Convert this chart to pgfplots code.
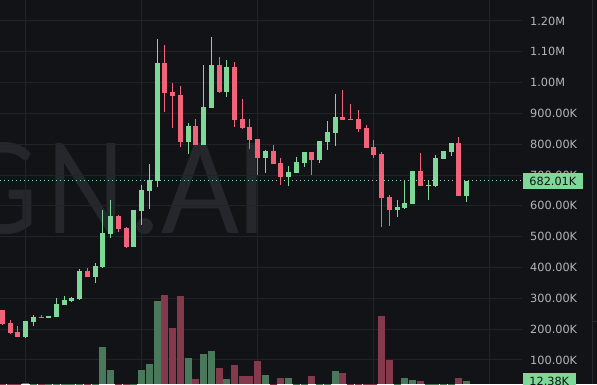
\documentclass[border=0pt]{standalone}
\usepackage{graphicx}
\usepackage{pgfplots}
\pgfplotsset{compat=1.18}
\usepackage{pgfplotstable}
\usepackage{fontspec}
\newfontfamily\labfont{DejaVu Sans}
\newfontfamily\wmfont{Lato}
\definecolor{bgc}{RGB}{18,19,22}
\definecolor{gridc}{RGB}{34,35,39}
\definecolor{wmc}{RGB}{38,39,44}
\definecolor{cgreen}{RGB}{126,217,152}
\definecolor{cred}{RGB}{242,99,122}
\definecolor{vgreen}{RGB}{74,120,90}
\definecolor{vred}{RGB}{132,58,76}
\definecolor{labc}{RGB}{178,181,186}
\definecolor{dotc}{RGB}{150,215,175}
\definecolor{sepc}{RGB}{40,41,46}

\pgfplotstableread{
i o h l c
3 175 227 172 226
4 223 246 211 240
6 236 244 236 244
7 240 301 239 282
8 279 308 278 295
9 291 304 288 301
10 298 395 295 389
12 369 415 350 405
13 401 587 398 512
14 509 619 496 567
17 467 587 467 587
18 583 668 538 652
19 649 736 590 684
20 681 1142 661 1064
24 807 869 768 859
26 798 1057 798 921
27 918 1148 918 1057
29 970 1073 953 1051
34 755 782 707 778
37 694 729 664 710
38 707 759 707 742
39 739 775 726 775
41 749 810 739 810
42 807 875 782 840
43 836 963 794 888
51 587 619 564 596
52 593 684 590 609
53 607 713 607 713
55 666 681 619 668
56 666 765 662 755
57 753 778 753 778
58 775 804 762 804
60 633 682.01 613 682.01
}\greencandles

\pgfplotstableread{
i o h l c
0 262 262 213 217
1 221 230 184 188.5
2 191 210 175 175.5
5 240 246 236 236
11 389 398 369 369
15 567 570 515 525
16 528 530 463 467
21 1064 1122 905 966
22 970 999 853 958
23 960 989 791 807
25 859 882 798 798
28 1057 1083 966 970
30 1051 1067 856 879
31 882 947 850 853
32 856 882 785 814
33 817 817 700 755
35 778 798 736 736
36 739 755 668 694
40 775 775 700 749
44 888 976 879 879
45 882 931 879 879
46 882 911 840 850
47 853 863 788 788
48 791 814 755 765
49 768 775 531 625
50 629 635 535 587
54 713 772 666 666
59 804 824 633 633
}\redcandles

\pgfplotstableread{
i v
3 7.4
4 3
6 2
7 4
8 3
9 3
10 4
12 4
13 96.6
14 39.6
17 4
18 39.6
19 54.5
20 210.5
24 69.3
26 79.2
27 86.7
29 17.3
34 27.2
37 19.8
38 4
39 4
41 4
42 4
43 37.1
51 4
52 19.8
53 14.9
55 3
56 4
57 3
58 4
60 12.38
}\greenvol

\pgfplotstableread{
i v
0 4
1 3
2 3
5 2
11 3
15 4
16 4
21 225.3
22 143.6
23 222.8
25 17.3
28 44.6
30 52
31 24.8
32 24.8
33 61.9
35 4
36 19.8
40 24.8
44 32.2
45 4
46 4
47 4
48 4
49 173.3
50 64.4
54 12.4
59 19.8
}\redvol

\pgfplotsset{
  base/.style={
    scale only axis, width=522pt, height=384pt,
    at={(0pt,0pt)}, anchor=south west,
    xmin=-0.297, xmax=67.14,
    axis line style={draw=none},
    major tick length=0pt,
  },
  candle/.style 2 args={draw=none, mark=none, forget plot,
    error bars/.cd, y dir=both, y explicit, error mark=none,
    error bar style={draw=#1, line width=#2}},
}

\begin{document}
\begin{tikzpicture}[x=1pt,y=1pt]
\path[use as bounding box] (0,0) rectangle (597,384);
\clip (0,0) rectangle (597,384);
\fill[bgc] (0,0) rectangle (597,384);

% watermark
\node[anchor=base west, inner sep=0pt, text=wmc,
      font={\fontsize{125.6}{130}\wmfont}] at (-40,151)
  {\makebox[80pt][c]{\scalebox{0.82}[1]{G}}\makebox[91pt][c]{\scalebox{0.82}[1]{N}}\makebox[28pt][c]{\scalebox{1.05}[1]{.}}\makebox[82pt][c]{\scalebox{0.92}[1]{A}}\makebox[22pt][c]{\scalebox{0.82}[1]{I}}};

% grid and price labels
\begin{axis}[base,
    ymin=22.06, ymax=1268,
    ytick={100,200,300,400,500,600,700,800,900,1000,1100,1200},
    yticklabels={100.00K,200.00K,300.00K,400.00K,500.00K,600.00K,700.00K,800.00K,900.00K,1.00M,1.10M,1.20M},
    yticklabel pos=right,
    yticklabel style={anchor=west, inner sep=0pt, xshift=8pt, text=labc,
      font={\fontsize{11.3}{13}\labfont}},
    xtick={3,18,33,48,63}, xticklabels={},
    grid=major, major grid style={draw=gridc, line width=1pt},
]
\addplot[draw=none, forget plot] coordinates {(0,100) (1,100)};
\end{axis}

% volume
\begin{axis}[base, ymin=4.95, ymax=955.7, ticks=none]
\addplot[ycomb, draw=vgreen, line width=7pt, mark=none] table[x=i,y=v] {\greenvol};
\addplot[ycomb, draw=vred, line width=7pt, mark=none] table[x=i,y=v] {\redvol};
\end{axis}

% candles
\begin{axis}[base, ymin=22.06, ymax=1268, ticks=none]
\addplot[draw=dotc, line width=1pt, dash pattern=on 1pt off 3pt, mark=none] coordinates {(-0.297,682.01) (67.14,682.01)};
% wicks
\addplot[candle={cgreen}{1pt}]
  table[x=i, y expr={(\thisrow{h}+\thisrow{l})/2}, y error expr={(\thisrow{h}-\thisrow{l})/2}] {\greencandles};
\addplot[candle={cred}{1pt}]
  table[x=i, y expr={(\thisrow{h}+\thisrow{l})/2}, y error expr={(\thisrow{h}-\thisrow{l})/2}] {\redcandles};
% bodies
\addplot[candle={cgreen}{5pt}]
  table[x=i, y expr={(\thisrow{o}+\thisrow{c})/2}, y error expr={max(abs(\thisrow{c}-\thisrow{o})/2,1.62)}] {\greencandles};
\addplot[candle={cred}{5pt}]
  table[x=i, y expr={(\thisrow{o}+\thisrow{c})/2}, y error expr={max(abs(\thisrow{c}-\thisrow{o})/2,1.62)}] {\redcandles};
\end{axis}

% right separator
\draw[sepc, line width=1pt] (592.3,0) -- (592.3,384);
\draw[sepc, line width=1pt] (592.3,63) -- (597,63);

% last price label
\node[anchor=west, fill=cgreen, text=bgc, inner xsep=6.5pt, inner ysep=0pt,
      minimum height=16pt, font={\fontsize{11.3}{13}\labfont}] at (522.7,202.7) {682.01K};
% last volume label
\node[anchor=west, fill=cgreen, text=bgc, inner xsep=6.5pt, inner ysep=0pt,
      minimum height=16pt, font={\fontsize{11.3}{13}\labfont}] at (522.7,3) {12.38K};
\end{tikzpicture}
\end{document}
